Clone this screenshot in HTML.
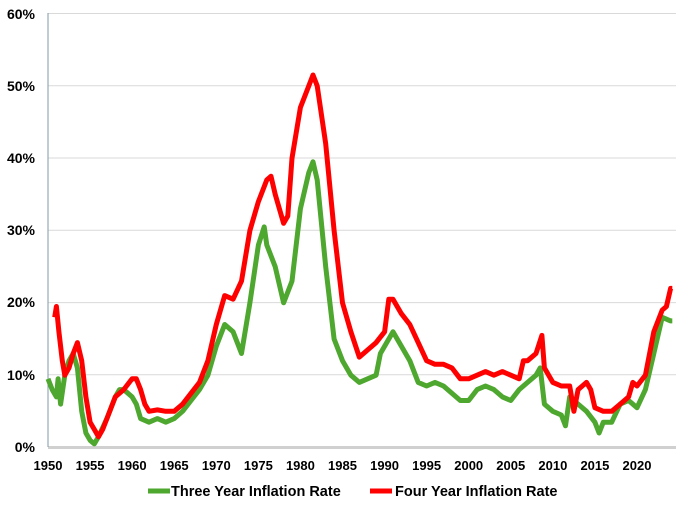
<!DOCTYPE html>
<html><head><meta charset="utf-8"><style>
body{margin:0;background:#fff;}
svg{display:block;font-family:"Liberation Sans",Arial,sans-serif;font-weight:bold;}
</style></head><body>
<svg id="s" width="700" height="508" xmlns="http://www.w3.org/2000/svg">
<g stroke="#d9d9d9" stroke-width="1">
<line x1="48" y1="13.5" x2="676" y2="13.5"/>
<line x1="48" y1="85.8" x2="676" y2="85.8"/>
<line x1="48" y1="158" x2="676" y2="158"/>
<line x1="48" y1="230.3" x2="676" y2="230.3"/>
<line x1="48" y1="302.6" x2="676" y2="302.6"/>
<line x1="48" y1="374.8" x2="676" y2="374.8"/>
</g>
<line x1="48" y1="447.5" x2="676" y2="447.5" stroke="#d0d0d0" stroke-width="3"/>
<line x1="48" y1="13" x2="48" y2="447" stroke="#7f9aae" stroke-width="1"/>
<g font-size="14" text-anchor="end" fill="#000">
<text x="35" y="19">60%</text><text x="35" y="91">50%</text><text x="35" y="163">40%</text>
<text x="35" y="235">30%</text><text x="35" y="307">20%</text><text x="35" y="380">10%</text>
<text x="35" y="452">0%</text>
</g>
<g font-size="13" text-anchor="middle" fill="#000" id="xl"></g>
<path id="g" fill="none" stroke="#4ea72e" stroke-width="5" stroke-linejoin="round"/>
<path id="r" fill="none" stroke="#ff0000" stroke-width="5" stroke-linejoin="round"/>
<line x1="148" y1="491" x2="170" y2="491" stroke="#4ea72e" stroke-width="5"/>
<text x="171" y="496" font-size="14.5">Three Year Inflation Rate</text>
<line x1="370" y1="491" x2="392" y2="491" stroke="#ff0000" stroke-width="5"/>
<text x="395" y="496" font-size="14.5">Four Year Inflation Rate</text>
</svg>
<script>
function X(y){return 48+(y-1950)*8.414;}
function Y(v){return 447.5-v*7.233;}
var xl=document.getElementById('xl'),h='';
for(var y=1950;y<=2020;y+=5)h+='<text x="'+X(y)+'" y="470">'+y+'</text>';
xl.innerHTML=h;
var R=[1950.8,18,1951,19.5,1951.3,16,1951.7,12,1952,10,1952.5,11,1953,13,1953.5,14.5,1954,12,1954.5,7,1955,3.5,1955.5,2.5,1956,1.5,1956.5,2.5,1957,4,1958,7,1959,8,1960,9.5,1960.5,9.5,1961,8,1961.5,6,1962,5,1963,5.2,1964,5,1965,5,1966,6,1967,7.5,1968,9,1969,12,1970,17,1971,21,1972,20.5,1973,23,1974,30,1975,34,1976,37,1976.5,37.5,1977,35,1978,31,1978.5,32,1979,40,1980,47,1981,50,1981.5,51.5,1982,50,1983,42,1984,30,1985,20,1986,16,1987,12.5,1988,13.5,1989,14.5,1990,16,1990.5,20.5,1991,20.5,1992,18.5,1993,17,1994,14.5,1995,12,1996,11.5,1997,11.5,1998,11,1999,9.5,2000,9.5,2001,10,2002,10.5,2003,10,2004,10.5,2005,10,2006,9.5,2006.5,12,2007,12,2008,13,2008.7,15.5,2009,11,2010,9,2011,8.5,2012,8.5,2012.5,5,2013,8,2014,9,2014.5,8,2015,5.5,2016,5,2017,5,2018,6,2019,7,2019.5,9,2020,8.5,2021,10,2022,16,2023,19,2023.5,19.5,2024,22,2024.2,22];
var G=[1950,9.5,1950.5,8,1951,7,1951.2,9.5,1951.5,6,1952,10,1952.5,12,1953,13,1953.5,11,1954,5,1954.5,2,1955,1,1955.5,0.5,1956,1.5,1957,4,1958,7,1958.5,8,1959,8,1960,7,1960.5,6,1961,4,1962,3.5,1963,4,1964,3.5,1965,4,1966,5,1967,6.5,1968,8,1969,10,1970,14,1971,17,1972,16,1973,13,1974,20,1975,28,1975.7,30.5,1976,28,1977,25,1978,20,1978.5,21.5,1979,23,1980,33,1981,38,1981.5,39.5,1982,37,1983,25,1984,15,1985,12,1986,10,1987,9,1988,9.5,1989,10,1989.5,13,1990,14,1991,16,1992,14,1993,12,1994,9,1995,8.5,1996,9,1997,8.5,1998,7.5,1999,6.5,2000,6.5,2001,8,2002,8.5,2003,8,2004,7,2005,6.5,2006,8,2007,9,2008,10,2008.5,11,2009,6,2010,5,2011,4.5,2011.5,3,2012,7,2013,6,2014,5,2015,3.5,2015.5,2,2016,3.5,2017,3.5,2018,6,2019,6.5,2020,5.5,2021,8,2022,13,2023,18,2024,17.5,2024.2,17.5];
function P(a){var s='';for(var i=0;i<a.length;i+=2)s+=(i?'L':'M')+X(a[i]).toFixed(1)+' '+Y(a[i+1]).toFixed(1);return s;}
document.getElementById('r').setAttribute('d',P(R));
document.getElementById('g').setAttribute('d',P(G));
</script>
</body></html>
